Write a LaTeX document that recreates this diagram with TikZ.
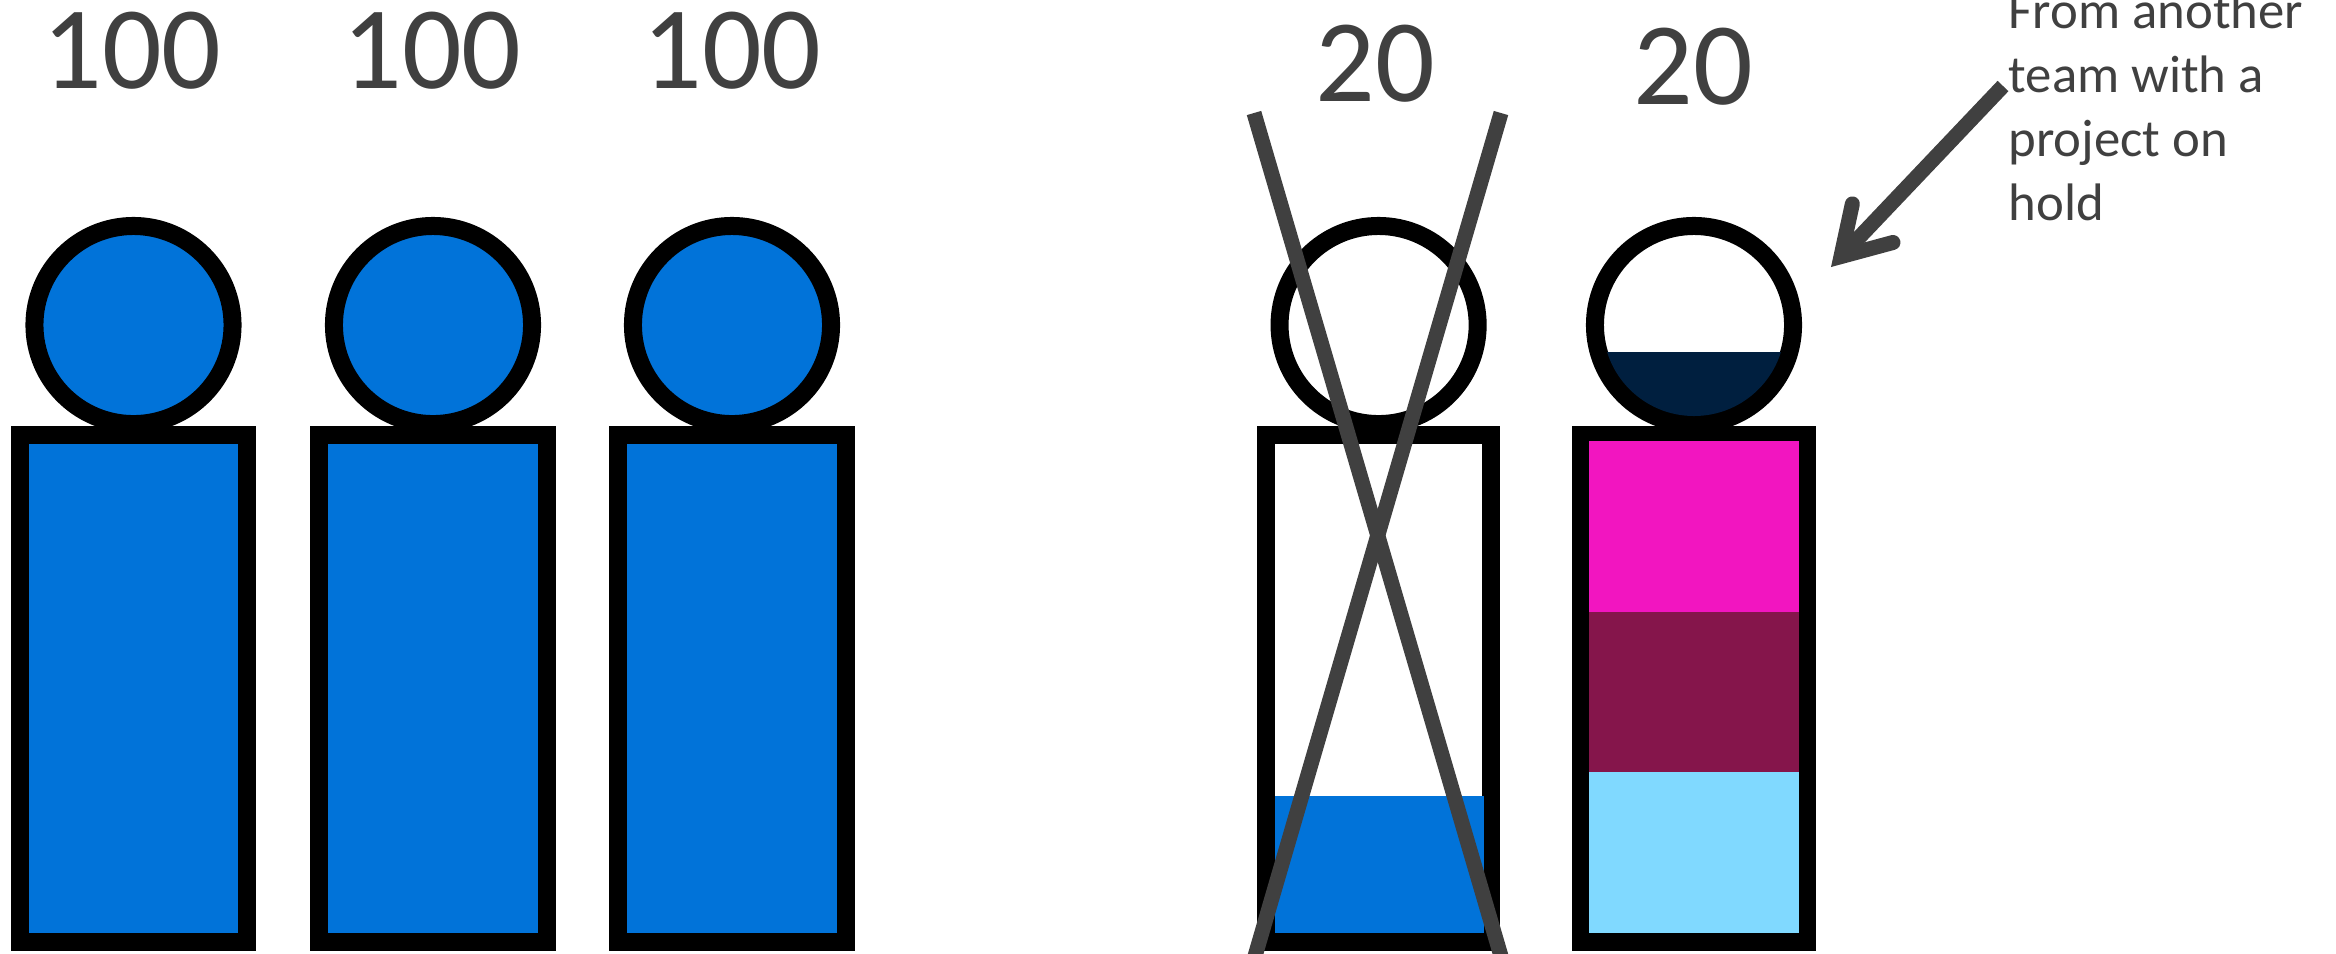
\documentclass[tikz,border=0pt]{standalone}
\usepackage{fontspec}
\setmainfont{Carlito}
\usetikzlibrary{arrows.meta}

\definecolor{teamblue}{HTML}{0173D9}
\definecolor{teamnavy}{HTML}{001F3F}
\definecolor{teammagenta}{HTML}{F215C0}
\definecolor{teammaroon}{HTML}{85154B}
\definecolor{teamcyan}{HTML}{80D9FF}
\definecolor{inkgray}{HTML}{404040}

\begin{document}
\begin{tikzpicture}[
    x=0.01cm, y=-0.01cm,
    head/.style={circle, draw=black, line width=1.8mm, minimum size=1.98cm, inner sep=0pt},
    body/.style={rectangle, draw=black, line width=1.8mm, minimum width=2.275cm, minimum height=5.07cm, inner sep=0pt},
    bignum/.style={anchor=base, text=inkgray, font=\fontsize{33.5}{40}\selectfont},
    notetext/.style={anchor=north west, align=left, inner sep=0pt, text=inkgray, font=\fontsize{15}{18.2}\selectfont},
    crossline/.style={draw=inkgray, line width=1.5mm},
    notearrow/.style={-{Straight Barb[length=4.6mm, width=5.6mm, line cap=round, line join=miter]}, draw=inkgray, line width=1.5mm}
]

% Page
\clip (0,0) rectangle (2336,953);
\fill[white] (0,0) rectangle (2336,953);

% Three full people (left side)
\node[head, fill=teamblue] (headone) at (133.5,325) {};
\node[body, fill=teamblue] (bodyone) at (133.5,688.5) {};
\node[bignum] (numone) at (132,88) {100};

\node[head, fill=teamblue] (headtwo) at (433,325) {};
\node[body, fill=teamblue] (bodytwo) at (433,688.5) {};
\node[bignum] (numtwo) at (432,88) {100};

\node[head, fill=teamblue] (headthree) at (732,325) {};
\node[body, fill=teamblue] (bodythree) at (732,688.5) {};
\node[bignum] (numthree) at (732,88) {100};

% Crossed out person
\node[head, fill=white] (headfour) at (1378.6,325) {};
\node[body, fill=white, minimum width=2.25cm] (bodyfour) at (1378.6,688.5) {};
\fill[teamblue] (1275,796) rectangle (1484,933);
\node[bignum] (numfour) at (1375,101) {20};

% Person with several projects
\node[head, fill=white] (headfive) at (1694,325) {};
\node[body, fill=white, minimum width=2.25cm] (bodyfive) at (1694,688.5) {};
\begin{scope}
\clip (1694,325) circle (91);
\fill[teamnavy] (1590,352) rectangle (1800,420);
\end{scope}
\fill[teammagenta] (1589,441) rectangle (1799,612);
\fill[teammaroon] (1589,612) rectangle (1799,772);
\fill[teamcyan] (1589,772) rectangle (1799,933);
\node[bignum] (numfive) at (1693,104) {20};

% Cross
\coordinate (crossnw) at (1254,113);
\coordinate (crossne) at (1501,113);
\coordinate (crosssw) at (1253,963);
\coordinate (crossse) at (1503,963);
\draw[crossline] (crossnw) -- (crossse);
\draw[crossline] (crossne) -- (crosssw);

% Note with arrow
\node[notetext] (note) at (2008,-9) {From another\\team with a\\project on\\hold};
\coordinate (notestart) at (2003,86);
\coordinate (notetip) at (1831,267);
\draw[notearrow] (notestart) -- (notetip);

\end{tikzpicture}
\end{document}
